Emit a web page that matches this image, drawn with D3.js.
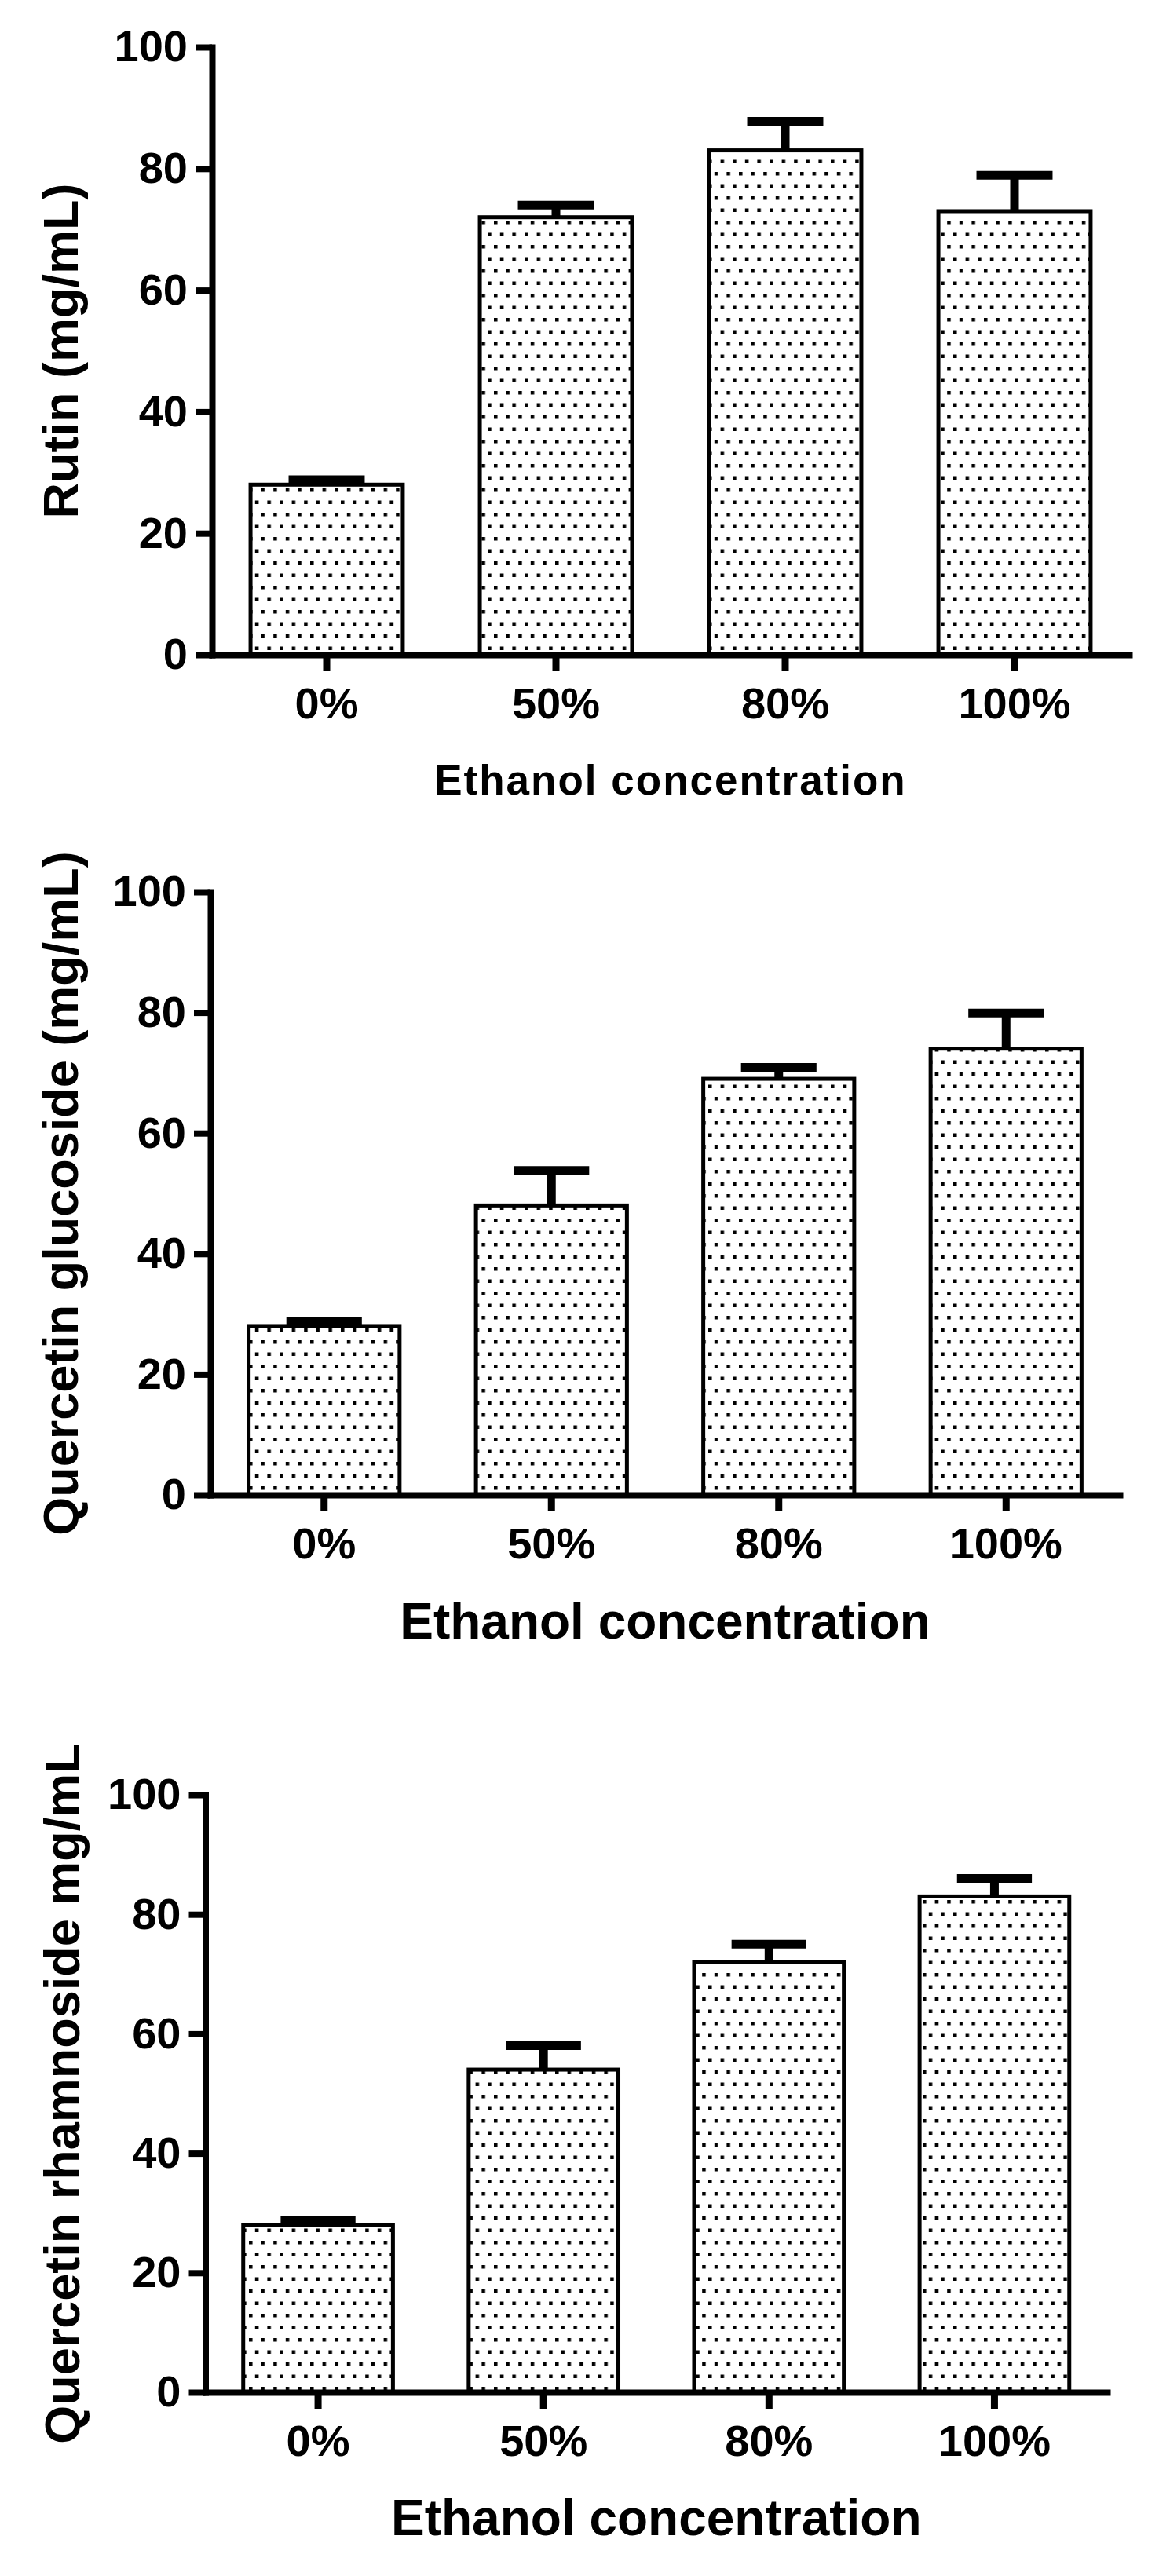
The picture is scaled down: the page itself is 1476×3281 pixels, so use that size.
<!DOCTYPE html>
<html>
<head>
<meta charset="utf-8">
<script src="https://cdn.jsdelivr.net/npm/d3@7"></script>
<style>
  html, body { margin: 0; padding: 0; background: #fff; }
  svg { display: block; }
  text { font-family: "Liberation Sans", Arial, Helvetica, sans-serif; font-weight: bold; fill: #000; }
</style>
</head>
<body>
<div id="chart"></div>
<script>
// data
var categories = ["0%", "50%", "80%", "100%"];
var yTicks = [0, 20, 40, 60, 80, 100];

var rutinMeans = [28, 72, 83, 73];
var rutinErrors = [0.8, 2, 4.8, 5.9];

var glucosideMeans = [28, 48, 69, 74];
var glucosideErrors = [0.8, 5.8, 1.9, 5.9];

var rhamnosideMeans = [28, 54, 72, 83];
var rhamnosideErrors = [0.8, 4, 3, 3];

var yTitles = ["Rutin (mg/mL)", "Quercetin glucoside (mg/mL)", "Quercetin rhamnoside mg/mL"];
var xTitle = "Ethanol concentration";

// where each panel sits on the page
var panels = [
  {means: rutinMeans, errors: rutinErrors, axisX: 270, y0: 834, y100: 60, xEnd: 1438,
   titleY: 1012, titleSize: 53, titleSpacing: 2, yTitleX: 99},
  {means: glucosideMeans, errors: glucosideErrors, axisX: 268, y0: 1904, y100: 1136, xEnd: 1426,
   titleY: 2087, titleSize: 64, titleSpacing: 0, yTitleX: 99},
  {means: rhamnosideMeans, errors: rhamnosideErrors, axisX: 261.5, y0: 3047, y100: 2286, xEnd: 1410,
   titleY: 3229, titleSize: 64, titleSpacing: 0, yTitleX: 101}
];

var width = 1476;
var height = 3281;

var svg = d3.select("#chart")
  .append("svg")
  .attr("width", width)
  .attr("height", height);

// dotted fill like the prism pattern
var pat = svg.append("defs")
  .append("pattern")
  .attr("id", "dots")
  .attr("patternUnits", "userSpaceOnUse")
  .attr("width", 15.6)
  .attr("height", 31)
  .attr("x", 5)
  .attr("y", 2);
pat.append("rect").attr("width", 15.6).attr("height", 31).attr("fill", "#fff");
pat.append("rect").attr("x", 0).attr("y", 0).attr("width", 4.5).attr("height", 4.5).attr("fill", "#000");
pat.append("rect").attr("x", 7.8).attr("y", 15.5).attr("width", 4.5).attr("height", 4.5).attr("fill", "#000");

panels.forEach(function(p, i) {

  var y = d3.scaleLinear()
    .domain([0, 100])
    .range([p.y0, p.y100]);

  var x = d3.scaleBand()
    .domain(categories)
    .range([p.axisX, p.xEnd])
    .paddingInner(0.336)
    .paddingOuter(0.168);

  var g = svg.append("g");

  // bars
  g.selectAll("rect.bar")
    .data(p.means)
    .enter()
    .append("rect")
      .attr("class", "bar")
      .attr("x", function(d, j) { return x(categories[j]); })
      .attr("y", function(d) { return y(d); })
      .attr("width", x.bandwidth())
      .attr("height", function(d) { return y(0) - y(d); })
      .attr("fill", "url(#dots)")
      .attr("stroke", "#000")
      .attr("stroke-width", 5);

  // error bars (upper only)
  var cx = function(j) { return x(categories[j]) + x.bandwidth() / 2; };
  g.selectAll("line.stem")
    .data(p.means)
    .enter()
    .append("line")
      .attr("x1", function(d, j) { return cx(j); })
      .attr("x2", function(d, j) { return cx(j); })
      .attr("y1", function(d) { return y(d); })
      .attr("y2", function(d, j) { return y(d + p.errors[j]); })
      .attr("stroke", "#000")
      .attr("stroke-width", 11);
  g.selectAll("line.cap")
    .data(p.means)
    .enter()
    .append("line")
      .attr("x1", function(d, j) { return cx(j) - x.bandwidth() / 4; })
      .attr("x2", function(d, j) { return cx(j) + x.bandwidth() / 4; })
      .attr("y1", function(d, j) { return y(d + p.errors[j]); })
      .attr("y2", function(d, j) { return y(d + p.errors[j]); })
      .attr("stroke", "#000")
      .attr("stroke-width", 11);

  // y axis
  var yAxis = g.append("g")
    .attr("transform", "translate(" + p.axisX + ",0)")
    .call(d3.axisLeft(y).tickValues(yTicks).tickSize(21).tickSizeOuter(0).tickPadding(10));
  yAxis.select(".domain").attr("stroke-width", 8).attr("stroke-linecap", "square");
  yAxis.selectAll(".tick line").attr("stroke-width", 8);
  yAxis.selectAll(".tick text")
    .style("font-size", "56px")
    .attr("fill", "#000");

  // x axis
  var xAxis = g.append("g")
    .attr("transform", "translate(0," + p.y0 + ")")
    .call(d3.axisBottom(x).tickSize(21).tickSizeOuter(0));
  xAxis.select(".domain").attr("stroke-width", 8).attr("stroke-linecap", "square");
  xAxis.selectAll(".tick line").attr("stroke-width", 9);
  xAxis.selectAll(".tick text")
    .attr("y", 81)
    .attr("dy", null)
    .style("font-size", "56px")
    .attr("fill", "#000");
  yAxis.selectAll("text").attr("font-family", null);
  xAxis.selectAll("text").attr("font-family", null);
  yAxis.attr("font-family", null).attr("font-size", null);
  xAxis.attr("font-family", null).attr("font-size", null);

  // axis titles
  g.append("text")
    .attr("x", (p.axisX + p.xEnd) / 2)
    .attr("y", p.titleY)
    .attr("text-anchor", "middle")
    .style("font-size", p.titleSize + "px")
    .style("letter-spacing", p.titleSpacing + "px")
    .text(xTitle);

  g.append("text")
    .attr("transform", "translate(" + p.yTitleX + "," + ((p.y0 + p.y100) / 2) + ") rotate(-90)")
    .attr("text-anchor", "middle")
    .style("font-size", "63px")
    .text(yTitles[i]);
});
</script>
</body>
</html>
